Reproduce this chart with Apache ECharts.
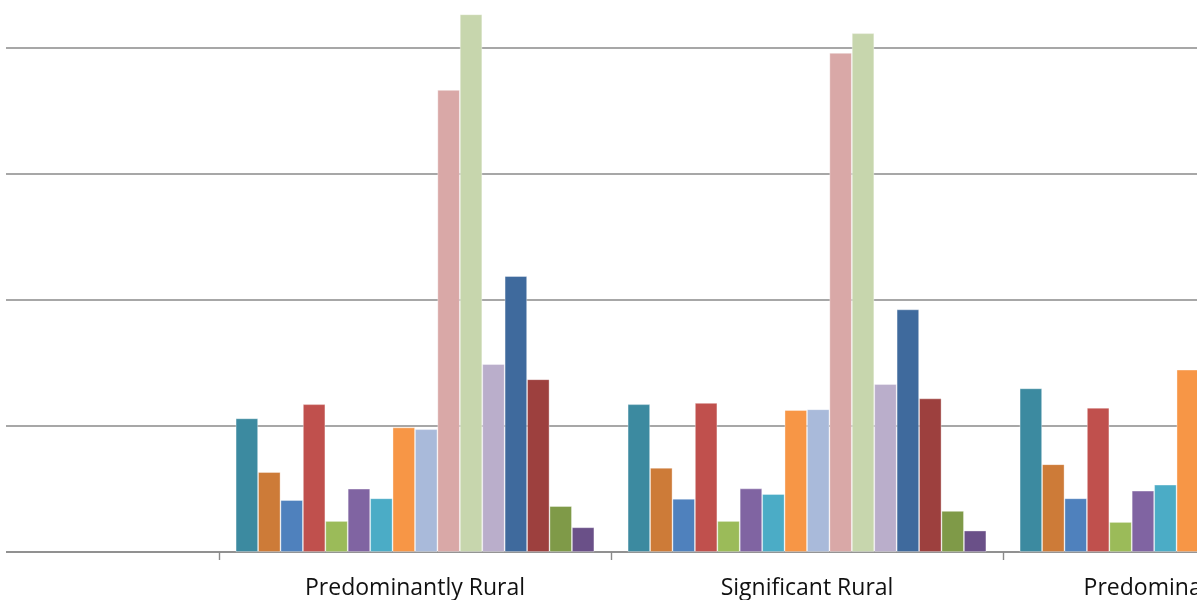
<!DOCTYPE html>
<html>
<head>
<meta charset="utf-8">
<script src="https://cdn.jsdelivr.net/npm/echarts@6/dist/echarts.min.js"></script>
<style>
html,body{margin:0;padding:0;background:#fff;}
#chart{width:1197px;height:600px;}
</style>
</head>
<body>
<div id="chart"></div>
<script>
// Categories (first category lies mostly outside the visible crop)
const categories = ["", "Predominantly Rural", "Significant Rural", "Predominantly Urban"];

// Series values per category
const s1  = [null, 5.30, 5.86, 6.49];
const s2  = [null, 3.17, 3.34, 3.48];
const s3  = [null, 2.06, 2.11, 2.13];
const s4  = [null, 5.86, 5.91, 5.72];
const s5  = [null, 1.23, 1.23, 1.19];
const s6  = [null, 2.51, 2.52, 2.43];
const s7  = [null, 2.13, 2.30, 2.67];
const s8  = [null, 4.94, 5.63, 7.23];
const s9  = [null, 4.87, 5.66, 6.50];
const s10 = [null, 18.32, 19.79, 16.00];
const s11 = [null, 21.32, 20.57, 18.00];
const s12 = [null, 7.45, 6.66, 7.00];
const s13 = [null, 10.94, 9.62, 9.00];
const s14 = [null, 6.85, 6.09, 6.00];
const s15 = [null, 1.82, 1.63, 1.50];
const s16 = [null, 0.98, 0.85, 1.00];

const seriesNames = ["Series 1","Series 2","Series 3","Series 4","Series 5","Series 6","Series 7","Series 8",
                     "Series 9","Series 10","Series 11","Series 12","Series 13","Series 14","Series 15","Series 16"];
const seriesData = [s1,s2,s3,s4,s5,s6,s7,s8,s9,s10,s11,s12,s13,s14,s15,s16];
const colors = ["#3C8AA0","#CD7B38","#4F81BD","#C0504D","#9BBB59","#8064A2","#4BACC6","#F79646",
                "#A9BADA","#D9A8A7","#C7D6AD","#BAAECB","#3F6A9D","#9D403E","#7F9A48","#6A5088"];

// Y ticks (labels fall outside the visible crop)
const yMin = 0, yMax = 25, yStep = 5;

const chart = echarts.init(document.getElementById('chart'), null, {renderer: 'canvas'});
const option = {
  animation: false,
  backgroundColor: '#ffffff',
  grid: { left: -173, right: -198, top: -78.5, bottom: 48, containLabel: false, outerBoundsMode: 'none' },
  xAxis: {
    type: 'category',
    data: categories,
    boundaryGap: true,
    axisLine: { show: true, lineStyle: { color: '#8A8A8A', width: 1.6 } },
    axisTick: { show: true, interval: 0, length: 8, lineStyle: { color: '#8A8A8A', width: 1.4 } },
    axisLabel: { show: true, interval: 0, color: '#111', fontFamily: 'Open Sans', fontSize: 23, margin: 25 },
    splitLine: { show: false }
  },
  yAxis: {
    type: 'value',
    min: yMin, max: yMax, interval: yStep,
    axisLine: { show: false },
    axisTick: { show: false },
    axisLabel: { show: false },
    splitLine: { show: true, lineStyle: { color: '#8A8A8A', width: 1.6 } }
  },
  graphic: [
    { type: 'rect', left: 0, top: 0, z: 100, shape: { width: 6, height: 560 }, style: { fill: '#ffffff' } }
  ],
  series: seriesData.map((d, i) => ({
    name: seriesNames[i],
    type: 'bar',
    data: d,
    barGap: '0%',
    barCategoryGap: '8.5%',
    itemStyle: { color: colors[i], borderColor: 'rgba(255,255,255,0.45)', borderWidth: 0.8 }
  }))
};
chart.setOption(option);
</script>
</body>
</html>
